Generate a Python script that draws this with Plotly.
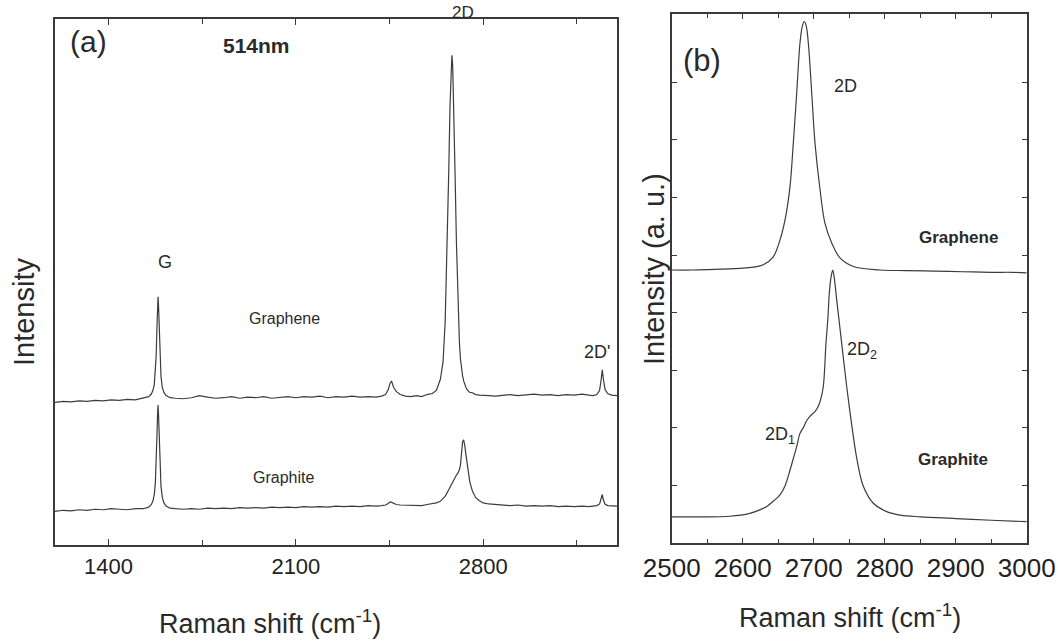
import plotly.graph_objects as go

# ---------------- Panel (a) data: full spectra, 514 nm ----------------
shift_a = [1200, 1230, 1260, 1290, 1320, 1350, 1380, 1410, 1440, 1470, 1500, 1530,
           1550, 1560, 1566, 1571, 1575, 1578, 1581, 1583, 1585, 1587, 1589, 1592,
           1596, 1601, 1607, 1615, 1630, 1650, 1680, 1710, 1740, 1770, 1800, 1830,
           1860, 1890, 1920, 1950, 1980, 2010, 2040, 2070, 2100, 2130, 2160, 2190,
           2220, 2250, 2280, 2310, 2340, 2370, 2400, 2420, 2435, 2445, 2452, 2458,
           2465, 2475, 2490, 2510, 2530, 2550, 2570, 2590, 2610, 2625, 2640, 2650,
           2658, 2665, 2671, 2676, 2680, 2683, 2686, 2690, 2695, 2700, 2706, 2711,
           2715, 2719, 2723, 2727, 2731, 2736, 2742, 2750, 2760, 2772, 2786, 2800,
           2820, 2845, 2870, 2900, 2930, 2960, 2990, 3020, 3050, 3080, 3110, 3140,
           3170, 3195, 3210, 3225, 3235, 3241, 3245, 3249, 3255, 3265, 3280, 3300]
graphene_a = [27.1, 27.3, 27.2, 27.4, 27.3, 27.5, 27.4, 27.6, 27.5, 27.7, 27.6, 27.9,
              28.2, 28.7, 29.4, 30.5, 32.8, 35.9, 41.4, 45.3, 47.2, 45.3, 41.4, 35.9,
              32.1, 29.9, 29.0, 28.4, 28.0, 27.9, 27.8, 28.0, 28.4, 28.1, 27.9, 28.0,
              28.2, 27.9, 28.1, 28.0, 28.2, 27.9, 28.1, 28.2, 28.0, 28.2, 28.1, 28.3,
              28.0, 28.2, 28.1, 28.3, 28.1, 28.2, 28.1, 28.3, 28.6, 29.5, 30.8, 31.1,
              30.0, 29.2, 28.6, 28.3, 28.2, 28.4, 28.2, 28.6, 28.8, 29.4, 31.5, 34.8,
              42.6, 55.5, 70.4, 83.4, 91.2, 93.1, 91.2, 83.4, 70.4, 57.5, 45.8, 38.7,
              35.4, 33.5, 32.2, 31.2, 30.6, 29.9, 29.4, 29.0, 28.95, 28.6, 28.5, 28.4,
              28.4, 28.3, 28.4, 28.6, 28.4, 28.5, 28.7, 28.5, 28.6, 28.4, 28.6, 28.5,
              28.7, 28.5, 28.4, 28.6, 29.4, 31.5, 33.3, 31.6, 29.6, 28.8, 28.5, 28.4]
graphite_a = [6.4, 6.6, 6.5, 6.7, 6.6, 6.8, 6.7, 6.9, 6.8, 6.7, 6.9, 6.9,
              7.2, 7.7, 8.4, 9.6, 11.9, 15.1, 20.7, 24.6, 26.6, 24.6, 20.7, 15.1,
              11.2, 9.0, 8.0, 7.4, 7.0, 6.9, 6.8, 6.9, 6.8, 7.0, 6.9, 7.0,
              6.9, 7.1, 7.0, 7.1, 7.0, 7.2, 7.1, 7.2, 7.1, 7.3, 7.2, 7.3,
              7.2, 7.4, 7.3, 7.4, 7.3, 7.5, 7.4, 7.5, 7.6, 7.9, 8.2, 8.1,
              7.9, 7.7, 7.6, 7.6, 7.5, 7.6, 7.5, 7.7, 7.9, 8.0, 8.3, 8.8,
              9.3, 9.9, 10.5, 11.1, 11.6, 11.9, 12.2, 12.6, 13.0, 13.3, 13.7, 14.3,
              15.2, 17.0, 19.6, 20.0, 19.0, 17.0, 14.6, 12.0, 10.2, 9.0, 8.4, 8.0,
              7.8, 7.7, 7.6, 7.5, 7.6, 7.4, 7.5, 7.4, 7.5, 7.3, 7.4, 7.3,
              7.4, 7.3, 7.4, 7.5, 7.8, 8.7, 9.6, 8.6, 7.8, 7.5, 7.4, 7.4]
ticks_a = [1400, 2100, 2800]
minor_ticks_a = [1750, 2450, 3150]

# ---------------- Panel (b) data: 2D band ----------------
shift_b_graphene = [2500, 2530, 2560, 2596, 2615, 2629, 2643, 2652.5, 2659.6, 2666.6,
                    2671.3, 2676.1, 2680.7, 2684, 2686.8, 2689.5, 2692.4, 2697.2,
                    2701.8, 2708.9, 2715.9, 2725.4, 2737, 2755.8, 2793.4, 2830,
                    2870, 2910, 2950, 2980, 3000]
graphene_b = [4.74, 4.74, 4.75, 4.77, 4.79, 4.83, 4.97, 5.26, 5.61, 6.19,
              6.95, 7.82, 8.69, 8.98, 9.06, 8.98, 8.69, 7.82,
              6.95, 6.14, 5.55, 5.21, 4.95, 4.80, 4.74, 4.73,
              4.72, 4.71, 4.70, 4.70, 4.69]
shift_b_graphite = [2500, 2540, 2582, 2610, 2624, 2634, 2643, 2652.5, 2660, 2666.6,
                    2671, 2676, 2680.7, 2685.4, 2690, 2695, 2701.8, 2706.5, 2710,
                    2713.5, 2717.3, 2720, 2722, 2724.5, 2726.8, 2729, 2732.4,
                    2739.4, 2746.5, 2753, 2760.6, 2769.9, 2784, 2802.8, 2822,
                    2850, 2900, 2950, 3000]
graphite_b = [0.45, 0.45, 0.46, 0.51, 0.57, 0.63, 0.72, 0.83, 1.0, 1.26,
              1.45, 1.67, 1.9, 2.0, 2.12, 2.2, 2.28, 2.37, 2.5,
              2.71, 3.47, 3.9, 4.34, 4.62, 4.74, 4.6, 4.22,
              3.47, 2.71, 2.1, 1.47, 0.98, 0.685, 0.54, 0.48,
              0.45, 0.42, 0.39, 0.365]
yticks_b = [1, 2, 3, 4, 5, 6, 7, 8]

LINE = "#3c3c3c"
AX = "#3a3a3a"
FONT = "Liberation Sans, Arial, sans-serif"

fig = go.Figure()
fig.add_trace(go.Scatter(x=shift_a, y=graphene_a, mode="lines",
                         line=dict(color=LINE, width=1.2), xaxis="x", yaxis="y"))
fig.add_trace(go.Scatter(x=shift_a, y=graphite_a, mode="lines",
                         line=dict(color=LINE, width=1.2), xaxis="x", yaxis="y"))
fig.add_trace(go.Scatter(x=shift_b_graphene, y=graphene_b, mode="lines", line_shape="spline",
                         line=dict(color=LINE, width=1.2), xaxis="x2", yaxis="y2"))
fig.add_trace(go.Scatter(x=shift_b_graphite, y=graphite_b, mode="lines", line_shape="spline",
                         line=dict(color=LINE, width=1.2), xaxis="x2", yaxis="y2"))

W, H = 1058, 641
def fx(px):
    return px / W
def fy(py):
    return 1 - py / H

axis_common = dict(showline=True, linecolor=AX, linewidth=1.8, mirror="ticks",
                   showgrid=False, zeroline=False, ticks="inside", tickcolor=AX,
                   automargin=False)

fig.update_layout(
    width=W, height=H, margin=dict(l=0, r=0, t=0, b=0, autoexpand=False),
    paper_bgcolor="white", plot_bgcolor="white", showlegend=False,
    xaxis=dict(domain=[fx(55), fx(617)], range=[1200, 3300], anchor="y",
               tickvals=ticks_a, ticklen=6, tickwidth=1.4,
               minor=dict(ticks="inside", tickvals=minor_ticks_a, ticklen=5, tickcolor=AX),
               ticklabelstandoff=1,
               tickfont=dict(family=FONT, size=22, color="#222"), **axis_common),
    yaxis=dict(domain=[fy(545), fy(19)], range=[0, 100], anchor="x",
               showticklabels=False, tickvals=[], showline=True, linecolor=AX,
               linewidth=1.8, mirror=True, showgrid=False, zeroline=False,
               automargin=False),
    xaxis2=dict(domain=[fx(671.7), fx(1026.7)], range=[2500, 3000], anchor="y2",
                dtick=100, ticklen=5, tickwidth=1.4,
                minor=dict(ticks="inside", dtick=50, ticklen=4, tickcolor=AX),
                ticklabelstandoff=1,
                tickfont=dict(family=FONT, size=26, color="#222"), **axis_common),
    yaxis2=dict(domain=[fy(542.7), fy(14)], range=[0, 9.19], anchor="x2",
                tickvals=yticks_b, showticklabels=False, ticks="inside", ticklen=5,
                tickcolor=AX, showline=True, linecolor=AX, linewidth=1.8,
                mirror="ticks", showgrid=False, zeroline=False, automargin=False),
)

def ann(text, px, py, size, bold=False, angle=0):
    t = f"<b>{text}</b>" if bold else text
    fig.add_annotation(text=t, x=fx(px), y=fy(py), xref="paper", yref="paper",
                       showarrow=False, textangle=angle, xanchor="center", yanchor="middle",
                       font=dict(family=FONT, size=size, color="#2a2a2a"))

# Panel (a) labels
ann("(a)", 88, 42, 30)
ann("514nm", 256, 45, 21, bold=True)
ann("2D", 463, 13, 17)
ann("G", 165, 262, 18)
ann("Graphene", 284, 318, 16)
ann("2D'", 597, 352, 18)
ann("Graphite", 283, 477, 16)
ann("Intensity", 24, 312, 29, angle=-90)
ann("Raman shift (cm<sup>-1</sup>)", 270, 622, 27)

# Panel (b) labels
ann("(b)", 702, 60, 31)
ann("2D", 845, 86, 18)
ann("Graphene", 958, 238, 17, bold=True)
ann("2D<sub>2</sub>", 862, 350, 18)
ann("2D<sub>1</sub>", 780, 435, 18)
ann("Graphite", 953, 459, 17, bold=True)
ann("Intensity (a. u.)", 654, 269, 29, angle=-90)
ann("Raman shift (cm<sup>-1</sup>)", 850, 616, 27)

fig.write_html("out.html")
